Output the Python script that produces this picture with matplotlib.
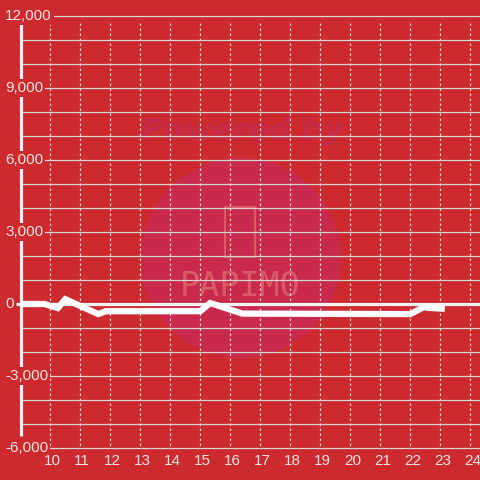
import matplotlib
matplotlib.use("Agg")
import matplotlib.pyplot as plt
from matplotlib.patches import Circle

# ---- data ----
x_hours = [9.0, 9.8, 10.25, 10.5, 11.6, 11.85, 15.0, 15.33, 16.4, 22.0, 22.45, 22.6, 23.15]
values = [0, 0, -170, 200, -420, -300, -300, 40, -400, -420, -130, -160, -200]
x_ticks = list(range(10, 25))
y_ticks = [-6000, -3000, 0, 3000, 6000, 9000, 12000]
y_tick_labels = ["-6,000", "-3,000", "0", "3,000", "6,000", "9,000", "12,000"]
y_grid = list(range(-6000, 12001, 1000))

BG = "#cd2a2f"
GRID = "#d8d4d4"
TXT = "#f5e2e2"
FONT = "Liberation Sans"

fig = plt.figure(figsize=(4.8, 4.8), dpi=100, facecolor=BG)
ax = fig.add_axes([0, 0, 1, 1])
ax.set_facecolor(BG)
for s in ax.spines.values():
    s.set_visible(False)
ax.set_xticks([]); ax.set_yticks([])

# pixel helpers (for layout only)
def px_x(p):
    return 10 + (p - 50.3) / 30.0
def px_y(p):
    return 12000 - (p - 16) / 24.0 * 1000

ax.set_xlim(px_x(0), px_x(480))
ax.set_ylim(px_y(480), px_y(0))

# watermark
circ = Circle((px_x(241), px_y(258)), 1, transform=ax.transData)
from matplotlib.patches import Ellipse
ell = Ellipse((px_x(241), px_y(258)), width=200 / 30.0, height=200 / 24.0 * 1000,
              facecolor="#c92a4c", edgecolor="none", zorder=0.5)
ax.add_patch(ell)
ax.text(px_x(242), px_y(132), "Powered by", ha="center", va="center", fontsize=22,
        fontweight="bold", fontstyle="italic", color="#c52a48", family="DejaVu Sans", zorder=0.6)
ax.text(px_x(240), px_y(287), "PAPIMO", ha="center", va="center", fontsize=24,
        color="#d85a66", family="DejaVu Sans Mono", zorder=0.6)
from matplotlib.patches import FancyBboxPatch
ax.add_patch(FancyBboxPatch((px_x(225), px_y(257)), 30 / 30.0, 50 / 24.0 * 1000,
                            boxstyle="round,pad=0.0", facecolor="none",
                            edgecolor="#d85a66", lw=1.5, zorder=0.6))

# horizontal grid
for v in y_grid:
    ax.plot([px_x(21), px_x(480)], [v, v], color=GRID, lw=0.9, zorder=1, solid_capstyle="butt")
# vertical dotted grid
for xv in x_ticks:
    ax.plot([xv, xv], [px_y(23), px_y(446)], color=GRID, lw=0.9, ls=(0, (2, 2)), zorder=1)

# zero line
ax.plot([px_x(16), px_x(480)], [0, 0], color="#f2f2f2", lw=2.3, zorder=2, solid_capstyle="butt")

# left spine
ax.plot([px_x(21), px_x(21)], [px_y(24), px_y(436)], color="#f2f2f2", lw=2.3, zorder=2,
        solid_capstyle="butt")

# data line
ax.plot(x_hours, values, color="white", lw=4.5, zorder=4, solid_joinstyle="miter",
        solid_capstyle="butt")

# y labels
for v, lab in zip(y_ticks, y_tick_labels):
    ax.text(px_x(5), v, lab, ha="left", va="center", fontsize=11, color=TXT, family=FONT,
            zorder=5, bbox=dict(facecolor=BG, edgecolor="none", pad=1.5))

# x labels
for xv in x_ticks:
    ax.text(xv + 2 / 30.0, px_y(461), str(xv), ha="center", va="center", fontsize=11,
            color=TXT, family=FONT, zorder=5)

fig.savefig("out.png", dpi=100, facecolor=BG)
